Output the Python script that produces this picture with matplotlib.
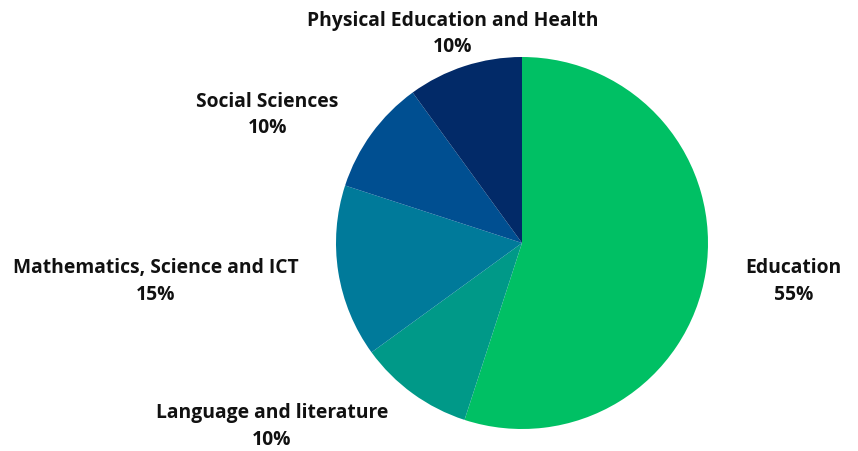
import numpy as np
import matplotlib
matplotlib.use("Agg")
import matplotlib.pyplot as plt

# data
categories = ['Education', 'Language and literature', 'Mathematics, Science and ICT',
              'Social Sciences', 'Physical Education and Health']
shares = [55, 10, 15, 10, 10]
colors = ['#00C064', '#009988', '#007A9A', '#004F91', '#022A68']

plt.rcParams['font.family'] = ['Open Sans', 'DejaVu Sans']

fig = plt.figure(figsize=(8.58, 4.52), dpi=100)
ax = fig.add_axes([0, 0, 1, 1])

wedges, _ = ax.pie(shares, colors=colors, startangle=90, counterclock=False,
                   wedgeprops=dict(linewidth=0))

# labels outside each wedge, anchored along the mid angle
for w, name, val in zip(wedges, categories, shares):
    mid = np.deg2rad((w.theta1 + w.theta2) / 2)
    x, y = 1.2 * np.cos(mid), 1.2 * np.sin(mid) - 0.012
    c = np.cos(mid)
    if c > 0.35:
        ha = 'left'
        x += 0.015
    elif c < -0.35:
        ha = 'right'
        x -= 0.015
    else:
        ha = 'center'
    ax.text(x, y, f'{name}\n{val}%', ha=ha, va='center', multialignment='center',
            fontsize=13.9, fontweight='bold', color='#111111', linespacing=1.45)

# pixel-matched limits: center at (522, 244) px, radius 186 px
ax.set_xlim(-522 / 186, (858 - 522) / 186)
ax.set_ylim(-(452 - 244) / 186, 244 / 186)
ax.set_aspect('equal', adjustable='datalim')
ax.axis('off')

fig.savefig('out.png', dpi=100)
